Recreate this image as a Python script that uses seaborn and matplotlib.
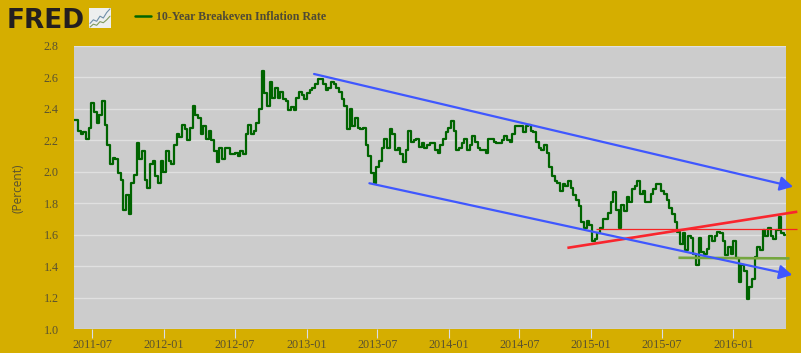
import pandas as pd
import matplotlib
matplotlib.use("Agg")
import matplotlib.pyplot as plt
import seaborn as sns

# 10-year breakeven, about one value a week
part_2011 = [2.33, 2.33, 2.26, 2.24, 2.25, 2.21, 2.28, 2.44, 2.38, 2.31, 2.36, 2.45, 2.30, 2.17, 2.05,
             2.09, 2.08, 1.99, 1.95, 1.76, 1.85, 1.73, 1.93, 1.98, 2.18, 2.08, 2.13, 1.95, 1.90, 2.05,
             2.07, 1.97, 1.93, 2.07, 2.00, 2.13, 2.07, 2.05, 2.17, 2.24, 2.22, 2.30, 2.27, 2.20]
part_2012 = [2.28, 2.42, 2.36, 2.34, 2.24, 2.29, 2.21, 2.26, 2.20, 2.13, 2.06, 2.15, 2.08, 2.15, 2.15,
             2.11, 2.11, 2.12, 2.10, 2.13, 2.11, 2.24, 2.30, 2.24, 2.26, 2.31, 2.40, 2.64, 2.50, 2.42,
             2.57, 2.47, 2.53, 2.47, 2.51, 2.46, 2.45, 2.39, 2.41, 2.39, 2.47, 2.51, 2.49, 2.46, 2.50]
part_2013 = [2.52, 2.53, 2.56, 2.59, 2.59, 2.56, 2.52, 2.53, 2.57, 2.56, 2.53, 2.51, 2.46, 2.42, 2.27,
             2.40, 2.29, 2.34, 2.28, 2.27, 2.28, 2.17, 2.10, 1.99, 1.93, 2.03, 2.07, 2.15, 2.21, 2.15,
             2.27, 2.24, 2.14, 2.15, 2.11, 2.06, 2.14, 2.26, 2.19, 2.20, 2.21, 2.16, 2.18, 2.15, 2.17]
part_2014 = [2.18, 2.18, 2.14, 2.12, 2.17, 2.21, 2.25, 2.28, 2.32, 2.26, 2.14, 2.15, 2.18, 2.21, 2.14,
             2.17, 2.23, 2.19, 2.15, 2.14, 2.14, 2.12, 2.21, 2.21, 2.19, 2.18, 2.18, 2.20, 2.23, 2.20,
             2.19, 2.24, 2.29, 2.29, 2.29, 2.25, 2.29, 2.30, 2.26, 2.25, 2.19, 2.15, 2.14, 2.17, 2.12]
part_2015 = [2.03, 1.97, 1.94, 1.93, 1.88, 1.92, 1.91, 1.94, 1.90, 1.85, 1.82, 1.78, 1.68, 1.64, 1.69,
             1.66, 1.56, 1.57, 1.61, 1.64, 1.70, 1.70, 1.74, 1.81, 1.87, 1.76, 1.64, 1.79, 1.75, 1.84,
             1.81, 1.89, 1.91, 1.94, 1.86, 1.88, 1.81, 1.81, 1.86, 1.89, 1.92, 1.92, 1.88, 1.86, 1.82]
part_2016 = [1.77, 1.73, 1.68, 1.62, 1.54, 1.61, 1.50, 1.59, 1.58, 1.48, 1.41, 1.58, 1.49, 1.48, 1.51,
             1.59, 1.56, 1.59, 1.62, 1.61, 1.56, 1.47, 1.52, 1.48, 1.56, 1.45, 1.30, 1.41, 1.37, 1.19,
             1.27, 1.32, 1.46, 1.52, 1.50, 1.63, 1.59, 1.64, 1.59, 1.57, 1.63, 1.71, 1.61, 1.60]
values = part_2011 + part_2012 + part_2013 + part_2014 + part_2015 + part_2016

tick_dates = ["2011-07", "2012-01", "2012-07", "2013-01", "2013-07",
              "2014-01", "2014-07", "2015-01", "2015-07", "2016-01"]
y_ticks = [1.0, 1.2, 1.4, 1.6, 1.8, 2.0, 2.2, 2.4, 2.6, 2.8]

# trend lines someone drew on top of the chart
upper_arrow = (("2013-01-20", 2.622), ("2016-06-02", 1.905))
lower_arrow = (("2013-06-11", 1.927), ("2016-05-31", 1.344))
red_thick = (("2014-11-01", 1.516), ("2016-06-13", 1.746))
red_thin = (("2015-01-14", 1.634), ("2016-06-13", 1.634))
green_flat = (("2015-08-13", 1.453), ("2016-05-24", 1.449))

icon_a = [2, 3, 2.6, 4, 3.5, 5, 6]
icon_b = [1, 1.8, 1.5, 2.5, 2.2, 3, 4]

gold = "#D5AE00"
text_col = "#5A5230"

sns.set_theme(style="white")
plt.rcParams["font.family"] = ["Liberation Serif", "DejaVu Serif"]

W, H = 801, 353
fig = plt.figure(figsize=(W / 100, H / 100), dpi=100, facecolor=gold)
ax = fig.add_axes([74 / W, (H - 329) / H, 712 / W, 283 / H], facecolor="#CCCCCC")

dates = pd.date_range("2011-05-15", "2016-05-13", periods=len(values))
df = pd.DataFrame({"date": dates, "value": values})
# stepped so the weekly readings keep the jagged look of the daily line
sns.lineplot(data=df, x="date", y="value", color="#006400", linewidth=1.6, drawstyle="steps-mid",
             label="10-Year Breakeven Inflation Rate", ax=ax, zorder=3)

ax.set_xlim(pd.Timestamp("2011-05-15"), pd.Timestamp("2016-05-15"))
ax.set_ylim(1.0, 2.8)
for s in ax.spines.values():
    s.set_visible(False)
ax.grid(axis="y", color="#E0E0E0", linewidth=1, zorder=1)
ax.grid(axis="x", visible=False)
ax.set_axisbelow(True)
ax.set_yticks(y_ticks, [f"{v:.1f}" for v in y_ticks])
ax.set_xticks([pd.Timestamp(d + "-01") for d in tick_dates], tick_dates)
ax.tick_params(axis="y", length=0, pad=11, labelsize=8.7, labelcolor=text_col)
ax.tick_params(axis="x", length=6.5, width=0.8, color="#D8DCE8", pad=0.8, labelsize=8.7, labelcolor=text_col, bottom=True)
ax.set_xlabel("")
ax.set_ylabel("")
fig.text(18 / W, 1 - 188 / H, "(Percent)", rotation=90, ha="center", va="center",
         fontsize=8.6, color=text_col, family="Open Sans")


def draw_arrow(line):
    (d0, v0), (d1, v1) = line
    ax.annotate("", xy=(pd.Timestamp(d1), v1), xytext=(pd.Timestamp(d0), v0), annotation_clip=False, zorder=5,
                arrowprops=dict(arrowstyle="-|>,head_length=0.65,head_width=0.36", color="#3F57FF", lw=1.6,
                                shrinkA=0, shrinkB=0, mutation_scale=12))


def draw_line(line, color, lw):
    (d0, v0), (d1, v1) = line
    ax.plot([pd.Timestamp(d0), pd.Timestamp(d1)], [v0, v1], color=color, lw=lw, clip_on=False, zorder=4,
            solid_capstyle="butt")


draw_line(green_flat, "#74A63E", 1.9)
draw_line(red_thin, "#F52424", 0.9)
draw_line(red_thick, "#F9262E", 1.9)
draw_arrow(upper_arrow)
draw_arrow(lower_arrow)

leg = ax.legend(loc="center left", bbox_to_anchor=(135 / W, 1 - 17 / H), bbox_transform=fig.transFigure,
                frameon=False, handlelength=1.35, handletextpad=0.4, borderpad=0, borderaxespad=0,
                prop=dict(family="Liberation Serif", weight="bold", size=8.6))
leg.get_texts()[0].set_color("#4F4A35")
leg.get_lines()[0].set_linewidth(1.8)
leg.get_lines()[0].set_drawstyle("default")

fig.text(6.5 / W, 1 - 28 / H, "FRED", fontsize=19, fontweight="bold", color="#231F20", family="DejaVu Sans",
         ha="left", va="baseline")

icon = fig.add_axes([89 / W, (H - 28) / H, 22 / W, 20 / H], facecolor="#EDEFEF")
icon.plot(icon_a, color="#6F8FA8", lw=0.8)
icon.plot(icon_b, color="#7F9A5E", lw=0.8)
icon.set_xticks([])
icon.set_yticks([])
for s in icon.spines.values():
    s.set_visible(False)

fig.savefig("out.png", dpi=100, facecolor=gold)
